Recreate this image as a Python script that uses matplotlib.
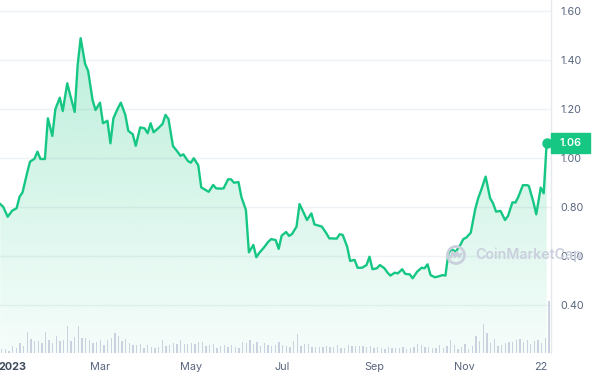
import numpy as np
import matplotlib
matplotlib.use("Agg")
import matplotlib.pyplot as plt
import matplotlib.dates as mdates
import matplotlib.transforms as mtransforms
from matplotlib.patches import Rectangle, Circle
from matplotlib.lines import Line2D

plt.rcParams['font.family'] = ['Inter', 'DejaVu Sans']

# ---------------- data ----------------
start = np.datetime64('2023-01-01')
price_days = [-8, -6, -3, 0, 3, 5, 7, 10, 12, 15,
              17, 19, 22, 24, 27, 29, 32, 34, 37, 39,
              42, 44, 46, 49, 51, 54, 56, 59, 61, 64,
              66, 68, 71, 73, 76, 78, 81, 83, 86, 89,
              91, 93, 95, 98, 101, 103, 105, 108, 111, 113,
              115, 118, 120, 122, 125, 127, 130, 132, 135, 137,
              140, 142, 145, 147, 149, 152, 154, 157, 159, 162,
              164, 166, 169, 172, 174, 177, 179, 181, 184, 186,
              188, 191, 193, 196, 198, 201, 203, 208, 211, 213,
              218, 220, 222, 225, 227, 230, 232, 235, 238, 240,
              242, 245, 247, 250, 252, 254, 257, 259, 262, 264,
              267, 269, 272, 275, 277, 279, 281, 284, 287, 289,
              291, 293, 295, 298, 301, 303, 305, 308, 311, 313,
              315, 318, 321, 323, 325, 328, 331, 333, 336, 338,
              340, 343, 346, 347, 350, 352, 355, 357, 359]
price = [0.812, 0.801, 0.760, 0.785, 0.795, 0.842, 0.860, 0.938, 0.985, 0.997,
         1.026, 0.996, 0.996, 1.162, 1.090, 1.199, 1.246, 1.192, 1.305, 1.257,
         1.188, 1.380, 1.489, 1.384, 1.356, 1.237, 1.196, 1.226, 1.142, 1.152,
         1.060, 1.162, 1.203, 1.226, 1.176, 1.111, 1.097, 1.050, 1.125, 1.121,
         1.101, 1.142, 1.105, 1.121, 1.139, 1.176, 1.159, 1.049, 1.026, 1.009,
         1.015, 0.988, 0.981, 0.999, 0.970, 0.880, 0.869, 0.862, 0.890, 0.876,
         0.875, 0.876, 0.913, 0.913, 0.899, 0.902, 0.840, 0.788, 0.615, 0.645,
         0.595, 0.613, 0.634, 0.658, 0.669, 0.665, 0.629, 0.683, 0.698, 0.682,
         0.690, 0.720, 0.812, 0.774, 0.747, 0.774, 0.729, 0.720, 0.693, 0.672,
         0.671, 0.689, 0.686, 0.638, 0.580, 0.584, 0.552, 0.552, 0.563, 0.597,
         0.546, 0.550, 0.563, 0.550, 0.533, 0.520, 0.532, 0.529, 0.546, 0.527,
         0.525, 0.509, 0.536, 0.552, 0.550, 0.566, 0.522, 0.513, 0.518, 0.522,
         0.520, 0.611, 0.627, 0.618, 0.645, 0.669, 0.675, 0.695, 0.791, 0.836,
         0.869, 0.924, 0.836, 0.815, 0.781, 0.784, 0.747, 0.763, 0.819, 0.818,
         0.842, 0.889, 0.889, 0.886, 0.822, 0.770, 0.879, 0.856, 1.062]

# relative volume (arbitrary units)
volume = [13, 13, 7, 20, 16, 31, 20, 65, 44, 35,
          35, 29, 65, 41, 29, 53, 35, 38, 83, 35,
          50, 83, 47, 47, 41, 29, 32, 38, 23, 38,
          47, 62, 53, 35, 44, 29, 23, 23, 26, 14,
          23, 17, 14, 17, 41, 20, 23, 29, 26, 41,
          26, 26, 29, 26, 32, 32, 20, 23, 26, 14,
          20, 23, 17, 23, 17, 14, 32, 29, 38, 26,
          32, 20, 29, 23, 20, 23, 32, 23, 20, 17,
          35, 59, 20, 26, 26, 17, 17, 17, 17, 20,
          17, 17, 23, 14, 14, 23, 20, 20, 20, 20,
          17, 20, 14, 17, 14, 11, 17, 14, 14, 14,
          17, 11, 14, 17, 26, 23, 17, 17, 14, 14,
          23, 14, 20, 38, 23, 11, 17, 26, 11, 20,
          53, 35, 89, 62, 29, 44, 20, 23, 29, 32,
          32, 41, 44, 32, 41, 26, 35, 38, 29, 47,
          158]
vol_first_day, vol_last_day = -7.0, 360.6

x_ticks = ['2023-01-01', '2023-03-01', '2023-05-01', '2023-07-01',
           '2023-09-01', '2023-11-01', '2023-12-22']
x_labels = ['2023', 'Mar', 'May', 'Jul', 'Sep', 'Nov', '22']
y_ticks = [0.40, 0.60, 0.80, 1.00, 1.20, 1.40, 1.60]

# ---------------- styling ----------------
GREEN = '#16c784'
TXT = '#58667e'
GRID = '#eff2f5'
BAR = '#cbd2df'

W, H = 593, 380
fig = plt.figure(figsize=(W / 100, H / 100), dpi=100)
ax_l, ax_b, ax_w, ax_h = 0 / W, 27 / H, 551 / W, 353 / H
ax = fig.add_axes([ax_l, ax_b, ax_w, ax_h])

dates = start + np.array(price_days).astype('timedelta64[D]')
x = mdates.date2num(dates)
p = np.array(price)

xmin = mdates.date2num(start) - 8.16
xmax = mdates.date2num(start) + 361.9
ymin, ymax = 0.204, 1.645
ax.set_xlim(xmin, xmax)
ax.set_ylim(ymin, ymax)

# gradient fill under the line
fill = ax.fill_between(x, p, ymin, color='none', lw=0)
img = np.zeros((256, 1, 4))
img[..., 0:3] = matplotlib.colors.to_rgb(GREEN)
img[:, 0, 3] = np.linspace(0.29, 0.04, 256)
im = ax.imshow(img, aspect='auto', origin='upper',
               extent=[xmin, xmax, ymin, p.max()], zorder=1, interpolation='bilinear')
im.set_clip_path(fill.get_paths()[0], transform=ax.transData)

ax.plot(x, p, color=GREEN, lw=1.7, zorder=4, solid_joinstyle='round')
ax.plot(x[-1], p[-1], 'o', color=GREEN, ms=6.5, zorder=5, clip_on=False)

# axes styling
for s in ['top', 'left', 'bottom']:
    ax.spines[s].set_visible(False)
ax.spines['right'].set_color('#e6e9ee')
ax.spines['right'].set_linewidth(1.0)
ax.set_yticks(y_ticks)
ax.set_yticklabels([f'{v:.2f}' for v in y_ticks])
ax.yaxis.tick_right()
ax.grid(axis='y', color=GRID, lw=1.0, zorder=0)
ax.set_axisbelow(True)
ax.set_xticks(mdates.date2num(np.array(x_ticks, dtype='datetime64[D]')))
ax.set_xticklabels(x_labels)
ax.tick_params(axis='y', length=0, pad=6.5, labelsize=7.8, labelcolor=TXT)
ax.tick_params(axis='x', length=0, pad=6.5, labelsize=7.8, labelcolor=TXT)
lab0 = ax.get_xticklabels()[0]
lab0.set_fontweight('bold')
lab0.set_color('#3f4a5c')

# volume bars
ax2 = fig.add_axes([ax_l, ax_b, ax_w, ax_h], sharex=ax)
ax2.set_axis_off()
ax2.patch.set_visible(False)
vx = np.linspace(mdates.date2num(start) + vol_first_day,
                 mdates.date2num(start) + vol_last_day, len(volume))
ax2.bar(vx, volume, width=0.9, color=BAR, lw=0)
ax2.set_ylim(0, max(volume) * 353 / 52)
ax2.set_xlim(xmin, xmax)

# current price tag
blend = mtransforms.blended_transform_factory(ax.transAxes, ax.transData)
tag_h = 20 / 245
ax.add_patch(Rectangle((1.0, p[-1] - tag_h / 2), 39 / 551, tag_h, transform=blend,
                       color=GREEN, clip_on=False, zorder=6))
ax.text(1.0 + 19.5 / 551, p[-1], f'{p[-1]:.2f}', transform=blend, ha='center',
        va='center', color='white', fontsize=7.8, fontweight='semibold',
        zorder=7, clip_on=False)

# watermark
WM = '#c9cfdc'
ident = mtransforms.IdentityTransform()
cx, cy = 456, H - 255
fig.add_artist(Circle((cx, cy), 8.5, transform=ident, fill=False, ec=WM, lw=2.0, zorder=3))
fig.add_artist(Line2D([cx - 5, cx - 3, cx - 1, cx + 1, cx + 3, cx + 5],
                      [cy - 2, cy + 3, cy - 2, cy + 3, cy - 2, cy + 1],
                      transform=ident, color=WM, lw=1.8, zorder=3))
fig.text(475 / W, 1 - 255 / H, 'CoinMarketCap', color=WM, fontsize=10.2,
         fontweight='semibold', ha='left', va='center', zorder=3)

fig.savefig('out.png', dpi=100)
